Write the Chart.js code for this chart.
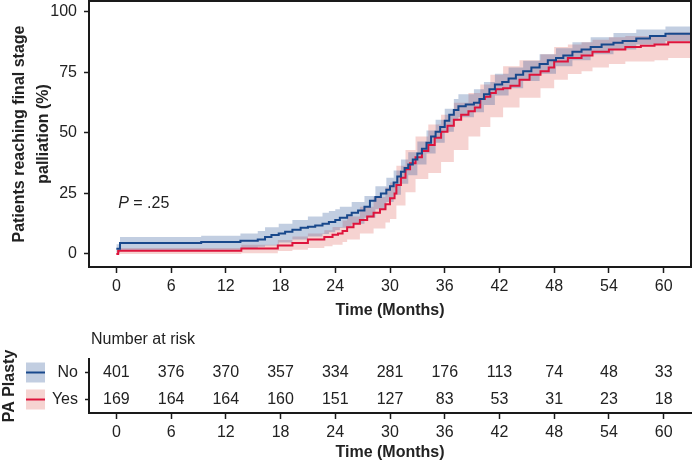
<!DOCTYPE html>
<html><head><meta charset="utf-8">
<script src="https://cdn.jsdelivr.net/npm/chart.js@4/dist/chart.umd.min.js"></script>
<style>
html,body{margin:0;padding:0;background:#fff;width:693px;height:465px;overflow:hidden}
canvas{position:absolute;left:0}
</style></head>
<body>
<canvas id="km" width="693" height="320" style="top:0;width:693px;height:320px"></canvas>
<canvas id="risk" width="693" height="145" style="top:320px;width:693px;height:145px"></canvas>
<script>
// ---- data ----
const xTicks = [0, 6, 12, 18, 24, 30, 36, 42, 48, 54, 60];
const yTicks = [0, 25, 50, 75, 100];
const groupLabels = ['No', 'Yes'];

const noTime = [0,0.4,9.3,13.6,15.5,16.3,17.0,17.8,18.5,19.3,20.2,21.0,21.8,22.6,23.3,24.0,24.5,25.3,25.8,26.5,27.2,27.8,28.4,29.0,29.6,30.0,30.4,30.8,31.2,31.6,32.0,32.5,33.0,33.5,34.0,34.5,35.0,35.5,36.0,36.5,37.0,37.5,38.3,39.2,39.8,40.3,40.9,41.5,42.3,43.0,43.8,44.6,45.5,46.4,47.3,48.2,49.0,50.0,51.0,52.0,53.2,54.5,55.5,57.0,58.5,60.2,63];
const noEst = [2.2,4.5,5.0,5.5,6.0,7.0,7.8,8.5,9.2,10.0,10.8,11.3,11.8,12.5,13.2,14.0,15.0,16.0,17.0,18.0,19.5,22.0,23.5,25.0,26.5,28.0,29.5,32.0,34.0,35.5,37.0,39.0,41.5,43.5,46.0,48.5,50.5,52.5,55.0,57.5,59.5,61.0,61.8,62.5,64.0,66.0,68.0,70.0,71.0,72.5,74.0,75.5,77.0,78.5,80.0,81.0,82.0,83.5,84.5,85.5,86.5,87.3,88.0,89.0,90.0,91.0,91.0];

const yesTime = [0,0.2,13.7,17.7,19.3,21.0,22.8,23.7,24.3,24.8,25.3,26.0,26.7,27.5,28.2,28.9,29.5,30.0,30.5,30.7,31.2,31.7,32.2,32.8,33.5,34.2,34.9,35.6,36.3,37.0,37.8,38.6,39.3,39.9,40.4,41.0,41.6,42.4,43.2,44.2,45.3,46.5,47.4,48.0,49.5,51.0,52.2,54.0,55.8,57.5,59.0,60.5,63];
const yesEst = [0,1.3,2.3,3.5,4.5,6.0,7.0,8.0,8.5,9.5,11.0,12.5,14.0,15.5,17.0,18.5,20.5,23.0,25.0,28.5,31.5,35.0,37.5,40.0,42.5,45.0,48.0,50.5,53.0,55.5,57.5,59.0,60.5,64.0,65.0,66.5,68.0,68.5,69.5,72.0,74.0,75.5,77.0,79.5,81.0,82.0,83.5,84.5,85.5,86.0,86.5,87.5,87.5];

const noBandTime = [0,0.4,9.3,13.6,15.5,16.3,17.8,19.3,21.0,22.6,23.3,24.0,24.5,25.8,27.2,28.4,29.6,30.4,31.2,32.0,33.0,34.0,35.0,36.0,37.0,37.5,39.2,40.3,41.5,43.0,44.6,46.4,48.2,50.0,52.0,54.5,57.0,60.2,63];
const noLow = [0.5,1.5,1.8,2.5,3.0,3.5,4.8,6.0,7.2,8.3,9.0,9.8,10.8,12.5,15.0,18.5,21.5,24.5,29.0,32.5,37.0,41.5,46.0,50.5,55.0,56.5,58.5,61.5,65.5,68.5,71.5,74.5,77.5,80.0,82.5,84.5,86.5,88.0,88.0];
const noHigh = [4.0,7.0,7.5,8.5,9.5,11.0,12.5,14.0,15.5,17.0,17.8,18.5,19.5,21.5,24.0,28.0,31.5,34.5,39.0,42.0,46.5,51.0,55.5,60.0,64.0,66.0,68.0,71.0,74.5,77.0,79.8,82.5,85.0,87.5,89.5,91.3,92.7,94.0,94.0];

const yesBandTime = [0,0.2,13.7,17.7,19.3,21.0,22.8,23.7,24.8,25.3,26.7,28.2,29.5,30.0,30.7,31.7,32.8,34.2,35.6,37.0,38.6,39.9,41.0,42.4,44.2,46.5,48.0,49.5,51.0,52.2,54.0,55.8,59.0,60.5,63];
const yesLow = [0,0,0.3,1.2,1.8,2.5,3.2,3.8,5.0,6.0,8.5,10.5,13.0,14.5,20.0,25.5,31.0,33.5,38.0,43.0,48.5,52.5,56.5,60.5,64.5,68.5,72.0,74.3,75.5,77.0,78.5,79.5,80.0,81.0,81.0];
const yesHigh = [1.5,2.5,3.8,5.8,7.2,8.5,9.8,11.2,13.8,15.5,19.5,23.5,27.5,29.5,36.5,43.0,48.5,53.5,57.5,62.5,66.5,70.0,74.0,77.5,80.0,82.5,85.5,86.5,87.5,88.5,89.5,90.0,90.5,91.5,91.5];

const riskTime = [0, 6, 12, 18, 24, 30, 36, 42, 48, 54, 60];
const riskNo = [401, 376, 370, 357, 334, 281, 176, 113, 74, 48, 33];
const riskYes = [169, 164, 164, 160, 151, 127, 83, 53, 31, 23, 18];
const pValueText = '.25';

// ---- styles ----
const FONT = "'Liberation Sans', Arial, Helvetica, sans-serif";
const INK = '#222222';
const AXIS = '#1a1a1a';
const blueLine = 'rgb(24,72,140)';
const redLine = 'rgb(222,20,60)';
const blueBand = 'rgba(31,73,145,0.27)';
const redBand = 'rgba(220,80,70,0.25)';

Chart.defaults.font.family = FONT;
Chart.defaults.font.size = 16;
Chart.defaults.color = INK;

const pts = (t, v) => t.map((x, i) => ({x: x, y: v[i]}));
const noPadX = (h) => s => { s.height = h; s.paddingLeft = 0; s.paddingRight = 0; };
const noPadY = (w) => s => { s.width = w; s.paddingTop = 0; s.paddingBottom = 0; };

const boxPlugin = {
  id: 'box',
  afterDatasetsDraw(chart) {
    const a = chart.chartArea, c = chart.ctx;
    c.save();
    c.strokeStyle = AXIS; c.lineWidth = 2;
    c.strokeRect(a.left, a.top, a.right - a.left, a.bottom - a.top);
    c.restore();
  }
};
const pPlugin = {
  id: 'pval',
  afterDraw(chart) {
    const c = chart.ctx;
    const x = chart.scales.x.getPixelForValue(0.2);
    const y = chart.scales.y.getPixelForValue(20.7);
    c.save();
    c.fillStyle = INK; c.textBaseline = 'middle'; c.textAlign = 'left';
    c.font = 'italic 16px ' + FONT;
    c.fillText('P', x, y);
    const w = c.measureText('P').width;
    c.font = '16px ' + FONT;
    c.fillText(' = ' + pValueText, x + w, y);
    c.restore();
  }
};

new Chart(document.getElementById('km'), {
  type: 'line',
  data: {
    datasets: [
      {data: pts(yesBandTime, yesLow), borderWidth: 0, pointRadius: 0, stepped: 'before', fill: false, order: 6},
      {data: pts(yesBandTime, yesHigh), borderWidth: 0, pointRadius: 0, stepped: 'before', fill: '-1', backgroundColor: redBand, order: 5},
      {data: pts(noBandTime, noLow), borderWidth: 0, pointRadius: 0, stepped: 'before', fill: false, order: 4},
      {data: pts(noBandTime, noHigh), borderWidth: 0, pointRadius: 0, stepped: 'before', fill: '-1', backgroundColor: blueBand, order: 3},
      {label: 'Yes', data: pts(yesTime, yesEst), borderColor: redLine, borderWidth: 2, pointRadius: 0, stepped: 'before', fill: false, order: 2},
      {label: 'No', data: pts(noTime, noEst), borderColor: blueLine, borderWidth: 2, pointRadius: 0, stepped: 'before', fill: false, order: 1}
    ]
  },
  options: {
    responsive: false, animation: false, devicePixelRatio: 1, events: [],
    layout: {padding: {top: 1, right: 2, left: 0, bottom: 0}},
    plugins: {legend: {display: false}, tooltip: {enabled: false}},
    scales: {
      x: {
        type: 'linear', min: -3, max: 63,
        afterBuildTicks: s => { s.ticks = xTicks.map(v => ({value: v})); },
        afterFit: noPadX(53),
        grid: {drawOnChartArea: false, drawTicks: true, tickLength: 6, tickColor: AXIS, tickWidth: 1.5},
        border: {display: true, color: AXIS, width: 2},
        ticks: {padding: 4, color: INK, font: {size: 16}},
        title: {display: true, text: 'Time (Months)', color: INK, font: {size: 16, weight: 'bold'}, padding: {top: 0, bottom: 0}}
      },
      y: {
        type: 'linear', min: -5.37, max: 104.5,
        afterBuildTicks: s => { s.ticks = yTicks.map(v => ({value: v})); },
        afterFit: noPadY(89),
        grid: {drawOnChartArea: false, drawTicks: true, tickLength: 5, tickColor: AXIS, tickWidth: 1.5},
        border: {display: true, color: AXIS, width: 2},
        ticks: {padding: 7, color: INK, font: {size: 16}},
        title: {display: true, text: ['Patients reaching final stage', 'palliation (%)'], color: INK,
                font: {size: 16, weight: 'bold', lineHeight: 1.5}, padding: {top: 8, bottom: 0}}
      }
    }
  },
  plugins: [boxPlugin, pPlugin]
});

// ---- number at risk table ----
const rowValues = [riskNo, riskYes];
const rowLine = [blueLine, redLine];
const rowBand = [blueBand, redBand];

const tablePlugin = {
  id: 'riskTable',
  afterDraw(chart) {
    const c = chart.ctx, a = chart.chartArea, ys = chart.scales.y;
    c.save();
    c.fillStyle = INK; c.textBaseline = 'middle';
    c.font = '16px ' + FONT;
    c.textAlign = 'left';
    c.fillText('Number at risk', a.left + 2, 20);
    c.textAlign = 'center';
    chart.data.datasets.forEach((ds, i) => {
      const meta = chart.getDatasetMeta(i);
      meta.data.forEach((p, j) => c.fillText(String(rowValues[i][j]), p.x, p.y));
    });
    groupLabels.forEach((g, i) => {
      const y = ys.getPixelForValue(i);
      c.fillStyle = rowBand[i];
      c.fillRect(26, y - 10, 19, 20);
      c.strokeStyle = rowLine[i]; c.lineWidth = 2;
      c.beginPath(); c.moveTo(26, y); c.lineTo(45, y); c.stroke();
    });
    c.restore();
  }
};

new Chart(document.getElementById('risk'), {
  type: 'scatter',
  data: {
    datasets: groupLabels.map((g, i) => ({
      label: g,
      data: riskTime.map(t => ({x: t, y: g})),
      pointRadius: 0, showLine: false
    }))
  },
  options: {
    responsive: false, animation: false, devicePixelRatio: 1, events: [],
    layout: {padding: {top: 39, right: 2, left: 0, bottom: 0}},
    plugins: {legend: {display: false}, tooltip: {enabled: false}},
    scales: {
      x: {
        type: 'linear', min: -3, max: 63,
        afterBuildTicks: s => { s.ticks = xTicks.map(v => ({value: v})); },
        afterFit: noPadX(52),
        grid: {drawOnChartArea: false, drawTicks: true, tickLength: 6, tickColor: AXIS, tickWidth: 1.5},
        border: {display: true, color: AXIS, width: 2},
        ticks: {padding: 4, color: INK, font: {size: 16}},
        title: {display: true, text: 'Time (Months)', color: INK, font: {size: 16, weight: 'bold'}, padding: {top: 0, bottom: 3}}
      },
      y: {
        type: 'category', labels: groupLabels, offset: true,
        afterFit: noPadY(89),
        grid: {drawOnChartArea: false, drawTicks: true, offset: false, tickLength: 4, tickColor: AXIS, tickWidth: 1.5},
        border: {display: true, color: AXIS, width: 2},
        ticks: {padding: 7, color: INK, font: {size: 16}},
        title: {display: true, text: 'PA Plasty', color: INK, font: {size: 16, weight: 'bold'}, padding: {top: 0, bottom: 0}}
      }
    }
  },
  plugins: [tablePlugin]
});
</script>
</body></html>
